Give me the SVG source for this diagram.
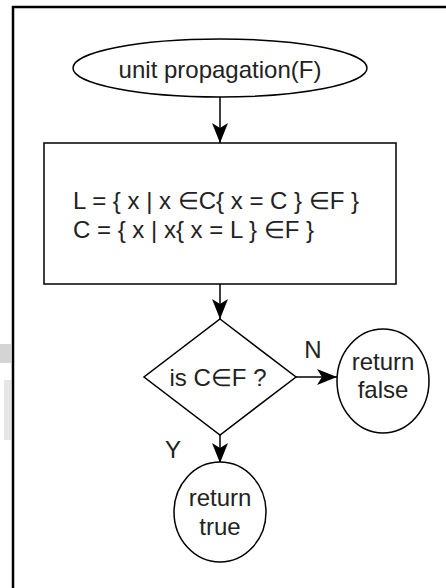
<svg xmlns="http://www.w3.org/2000/svg" width="446" height="588" viewBox="0 0 446 588">
<defs>
<marker id="arr" markerUnits="userSpaceOnUse" viewBox="0 0 20 16" refX="20" refY="8" markerWidth="20" markerHeight="16" orient="auto">
<path d="M0,0 L20,8 L0,16 L5,8 Z" fill="#000"/>
</marker>
<style>
.shape{fill:#fff;stroke:#000;stroke-width:1.5}
.t{font-family:"Liberation Sans",Arial,sans-serif;font-size:24px;fill:#222}
.c{text-anchor:middle}
.edge{stroke:#000;stroke-width:1.5;fill:none;marker-end:url(#arr)}
</style>
</defs>
<rect width="446" height="588" fill="#fff"/>
<rect x="0" y="344" width="11" height="19" fill="#d4d4d4"/>
<rect x="4" y="380" width="7" height="60" fill="#e6e6e6"/>
<path d="M13,600 L13,7 L450,7" fill="none" stroke="#000" stroke-width="2.5"/>
<g id="connectors">
<line class="edge" x1="220" y1="97" x2="220" y2="143"/>
<line class="edge" x1="220" y1="284" x2="220" y2="319"/>
<line class="edge" x1="296" y1="377" x2="337" y2="377"/>
<line class="edge" x1="220" y1="435" x2="220" y2="463"/>
<text class="t c" x="313" y="358">N</text>
<text class="t c" x="173" y="458">Y</text>
</g>
<g id="start">
<ellipse class="shape" cx="220" cy="68" rx="147" ry="29"/>
<text class="t c" x="220" y="78">unit propagation(F)</text>
</g>
<g id="assign">
<rect class="shape" x="44" y="143" width="352" height="141"/>
<text class="t" x="73" y="209">L = { x | x ∈C{ x = C } ∈F }</text>
<text class="t" x="73" y="238">C = { x | x{ x = L } ∈F }</text>
</g>
<g id="decision">
<polygon class="shape" points="220,319 296,377 220,435 144,377"/>
<text class="t c" x="218" y="386">is C∈F ?</text>
</g>
<g id="retfalse">
<ellipse class="shape" cx="383" cy="381" rx="46" ry="52"/>
<text class="t c" x="383" y="370">return</text>
<text class="t c" x="383" y="398">false</text>
</g>
<g id="rettrue">
<ellipse class="shape" cx="220" cy="512" rx="46" ry="50"/>
<text class="t c" x="220" y="506">return</text>
<text class="t c" x="220" y="535">true</text>
</g>
</svg>
